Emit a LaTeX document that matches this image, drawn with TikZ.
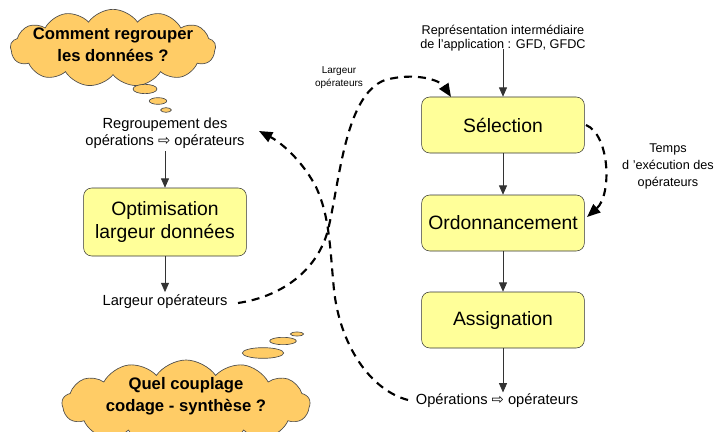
\documentclass[tikz,border=0pt]{standalone}
\usepackage{fontspec}
\setmainfont{Liberation Sans}
\newfontfamily\symfont{DejaVu Sans}
\usetikzlibrary{shapes.symbols,shapes.geometric,arrows.meta}
\definecolor{boxfill}{HTML}{FFFF99}
\definecolor{cloudfill}{HTML}{FFCC66}
\newcommand{\rarr}{{\symfont ⇨}}
\tikzset{
  procbox/.style={draw=black!80, fill=boxfill, rounded corners=6pt, minimum width=122pt, minimum height=42pt, align=center, font=\fontsize{14.5}{17.4}\selectfont, inner sep=2pt},
  plain/.style={align=center, inner sep=0pt, font=\fontsize{11}{13}\selectfont},
  small/.style={align=center, inner sep=0pt, font=\fontsize{9.5}{10}\selectfont},
  solidarrow/.style={draw=black!80, line width=0.6pt, -{Triangle[length=7pt,width=6pt]}},
  dasharrow/.style={line width=1.6pt, dash pattern=on 6pt off 4.5pt, -{Triangle[length=10pt,width=8pt]}},
  thought/.style={cloud, cloud puffs=13, cloud puff arc=110, cloud ignores aspect, draw=black!70, fill=cloudfill, line width=0.5pt, inner sep=0pt},
  bubble/.style={ellipse, draw=black!70, fill=cloudfill, line width=0.5pt, inner sep=0pt},
  cloudtext/.style={align=center, inner sep=0pt, font=\fontsize{12.5}{16.5}\selectfont\bfseries}
}
\begin{document}
\begin{tikzpicture}[x=0.75pt, y=-0.75pt]
\useasboundingbox (0,0) rectangle (723,431);
% clouds
\node[thought, minimum width=154pt, minimum height=58pt] (c1) at (113,48) {};
\node[cloudtext] (c1t) at (113,45) {Comment regrouper\\les données ?};
\node[bubble, minimum width=18pt, minimum height=7pt] (b1a) at (145,89) {};
\node[bubble, minimum width=13pt, minimum height=5pt] (b1b) at (158,101) {};
\node[bubble, minimum width=8pt, minimum height=3.5pt] (b1c) at (166,110) {};

\node[thought, minimum width=186pt, minimum height=66pt] (c2) at (186,404) {};
\node[cloudtext] (c2t) at (186,396) {Quel couplage\\codage - synthèse ?};
\node[bubble, minimum width=31pt, minimum height=8pt] (b2a) at (263,353) {};
\node[bubble, minimum width=20pt, minimum height=5.5pt] (b2b) at (283,341) {};
\node[bubble, minimum width=10pt, minimum height=3pt] (b2c) at (297,334) {};

% right column
\node[small] (rep) at (503,38) {Représentation intermédiaire\\de l’application : GFD, GFDC};
\node[procbox] (sel) at (503,125) {Sélection};
\node[procbox] (ord) at (503,223) {Ordonnancement};
\node[procbox] (asg) at (503,320) {Assignation};
\node[plain] (ops) at (497,401) {Opérations \rarr\ opérateurs};
\node[small, font=\fontsize{9.5}{12.75}\selectfont] (temps) at (668,166) {Temps\\d ’exécution des\\opérateurs};
\node[small, font=\fontsize{7.5}{9.75}\selectfont] (larg2) at (339,78) {Largeur\\opérateurs};

% left column
\node[plain] (reg) at (165,133) {Regroupement des\\opérations \rarr\ opérateurs};
\node[procbox, minimum height=51pt] (opt) at (165,222) {Optimisation\\largeur données};
\node[plain] (larg1) at (165,302) {Largeur opérateurs};

% solid arrows
\draw[solidarrow] (rep.south) ++(0,-2) coordinate (rs) (rs) -- (sel.north);
\draw[solidarrow] (sel) -- (ord);
\draw[solidarrow] (ord) -- (asg);
\draw[solidarrow] (asg.south) -- ([yshift=1pt]ops.north -| asg.south);
\draw[solidarrow] ([yshift=-2pt]reg.south) -- (opt.north);
\draw[solidarrow] (opt.south) -- ([yshift=2pt]larg1.north);

% dashed curves
\coordinate (aS) at (238,303);
\coordinate (aE) at (451,97);
\draw[dasharrow] (aS) .. controls (285,296) and (318,268) .. (328,230)
  .. controls (340,180) and (345,95) .. (385,80)
  .. controls (415,72) and (440,80) .. (aE);
\coordinate (bS) at (408,400);
\coordinate (bE) at (259,131);
\draw[dasharrow] (bS) .. controls (370,390) and (340,345) .. (334,290)
  .. controls (330,250) and (330,215) .. (315,185)
  .. controls (300,158) and (280,142) .. (bE);
\coordinate (cS) at (586,125);
\coordinate (cE) at (587,217);
\draw[dasharrow] (cS) .. controls (610,135) and (612,195) .. (cE);
\end{tikzpicture}
\end{document}
